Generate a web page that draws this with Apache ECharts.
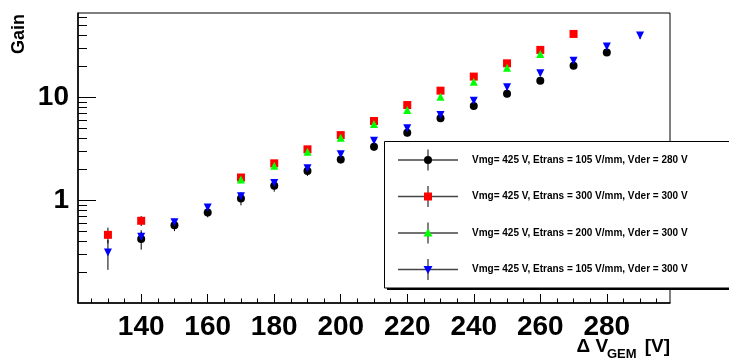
<!DOCTYPE html>
<html>
<head>
<meta charset="utf-8">
<script src="https://cdn.jsdelivr.net/npm/echarts@6/dist/echarts.min.js"></script>
<style>
html,body{margin:0;padding:0;background:#fff;}
#c{width:729px;height:359px;}
</style>
</head>
<body>
<div id="c"></div>
<script>
// ---- data ----
const legendLabels = [
  'Vmg= 425 V, Etrans = 105 V/mm, Vder = 280 V',
  'Vmg= 425 V, Etrans = 300 V/mm, Vder = 300 V',
  'Vmg= 425 V, Etrans = 200 V/mm, Vder = 300 V',
  'Vmg= 425 V, Etrans = 105 V/mm, Vder = 300 V'
];
const blackX = [140,150,160,170,180,190,200,210,220,230,240,250,260,270,280];
const blackY = [0.42,0.57,0.76,1.04,1.38,1.92,2.49,3.3,4.52,6.24,8.23,10.8,14.5,20.3,27.2];
const blackErr = [0.09,0.07,0.08,0.15,0.17,0.2,0.22,0.28,0.35,0.45,0.6,0.8,1.0,1.5,2.0];

const redX = [130,140,170,180,190,200,210,220,230,240,250,260,270];
const redY = [0.46,0.63,1.66,2.28,3.12,4.29,5.88,8.41,11.6,15.9,21.4,28.9,41.3];
const redErr = [0.08,0.07,0.12,0.15,0.2,0.25,0.35,0.5,0.7,0.9,1.2,1.6,2.3];

const greenX = [170,180,190,200,210,220,230,240,250,260];
const greenY = [1.59,2.16,2.95,4.04,5.5,7.52,10.1,14.2,19.4,26.4];
const greenErr = [0.1,0.13,0.18,0.24,0.33,0.45,0.6,0.85,1.1,1.5];

const blueX = [130,140,150,160,170,180,190,200,210,220,230,240,250,260,270,280,290];
const blueY = [0.31,0.44,0.61,0.85,1.09,1.47,2.04,2.79,3.78,4.99,6.72,9.27,12.5,17.1,22.7,31.1,39.8];
const blueErr = [0.1,0.05,0.05,0.06,0.08,0.1,0.13,0.17,0.22,0.3,0.4,0.55,0.75,1.0,1.3,1.8,3.0];

const xMajorTicks = [140,160,180,200,220,240,260,280];
const xMinorTicks = [125,130,135,145,150,155,165,170,175,185,190,195,205,210,215,225,230,235,245,250,255,265,270,275,285,290,295];
const yMajorTicks = [1,10];
const yMinorTicks = [0.2,0.3,0.4,0.5,0.6,0.7,0.8,0.9,2,3,4,5,6,7,8,9,20,30,40,50,60];

// ---- chart ----
const FONT = '"Liberation Sans", Arial, Helvetica, sans-serif';
const zip = (xs, ys) => xs.map((x, i) => [x, ys[i]]);
const zip3 = (xs, ys, es) => xs.map((x, i) => [x, ys[i], es[i]]);

function errSeries(xs, ys, es) {
  return {
    type: 'custom',
    xAxisIndex: 0, yAxisIndex: 0,
    data: zip3(xs, ys, es),
    encode: {x: 0, y: 1},
    z: 1,
    silent: true,
    renderItem: function (params, api) {
      const x = api.value(0), y = api.value(1), e = api.value(2);
      const p1 = api.coord([x, Math.max(y - e, 0.1001)]);
      const p2 = api.coord([x, y + e]);
      return {
        type: 'line',
        shape: {x1: p1[0], y1: p1[1], x2: p2[0], y2: p2[1]},
        style: {stroke: '#000', lineWidth: 1}
      };
    }
  };
}
function scatter(xs, ys, symbol, color, size, rot, z) {
  return {
    type: 'scatter',
    xAxisIndex: 0, yAxisIndex: 0,
    data: zip(xs, ys),
    symbol: symbol,
    symbolSize: size,
    symbolRotate: rot,
    itemStyle: {color: color, opacity: 1},
    z: z,
    silent: true
  };
}

const common = {min: 121, max: 299, splitLine: {show: false}};
const yCommon = {type: 'log', logBase: 10, min: 0.1, max: 66, splitLine: {show: false}};

const chart = echarts.init(document.getElementById('c'), null, {renderer: 'canvas'});

// legend graphics
const legendGraphics = [];
legendGraphics.push({type: 'rect', shape: {x: 387, y: 144, width: 360, height: 146}, style: {fill: '#000'}, z: 100});
legendGraphics.push({type: 'rect', shape: {x: 384.5, y: 141.5, width: 360, height: 146.5}, style: {fill: '#fff', stroke: '#000', lineWidth: 1}, z: 101});
const rowY = [160, 196.5, 233, 269.5];
const mk = [
  {shape: 'circle', color: '#000'},
  {shape: 'rect', color: '#ff0000'},
  {shape: 'tri', color: '#00ff00'},
  {shape: 'dtri', color: '#0000ff'}
];
rowY.forEach((y, i) => {
  legendGraphics.push({type: 'line', shape: {x1: 398, y1: y, x2: 458, y2: y}, style: {stroke: '#444', lineWidth: 1.5}, z: 102});
  legendGraphics.push({type: 'line', shape: {x1: 428, y1: y - 10.5, x2: 428, y2: y + 10.5}, style: {stroke: '#000', lineWidth: 1}, z: 102});
  const m = mk[i];
  let el;
  if (m.shape === 'circle') el = {type: 'circle', shape: {cx: 428, cy: y, r: 4}};
  else if (m.shape === 'rect') el = {type: 'rect', shape: {x: 424, y: y - 4, width: 8, height: 8}};
  else if (m.shape === 'tri') el = {type: 'polygon', shape: {points: [[428, y - 4.5], [432.5, y + 3.5], [423.5, y + 3.5]]}};
  else el = {type: 'polygon', shape: {points: [[428, y + 4.5], [432.5, y - 3.5], [423.5, y - 3.5]]}};
  el.style = {fill: m.color};
  el.z = 103;
  legendGraphics.push(el);
  legendGraphics.push({type: 'text', x: 472, y: y, style: {text: legendLabels[i], font: 'bold 10px ' + FONT, fill: '#000', textAlign: 'left', textVerticalAlign: 'middle'}, z: 103});
});

const titleGraphics = [
  {type: 'text', x: 19.5, y: 34, rotation: Math.PI / 2, style: {text: 'Gain', font: 'bold 18px ' + FONT, fill: '#000', textAlign: 'center', textVerticalAlign: 'middle'}},
  {type: 'text', x: 576.5, y: 347, style: {text: '\u0394 V', font: 'bold 19px ' + FONT, fill: '#000', textAlign: 'left', textVerticalAlign: 'middle'}},
  {type: 'text', x: 607, y: 354, style: {text: 'GEM', font: 'bold 13px ' + FONT, fill: '#000', textAlign: 'left', textVerticalAlign: 'middle'}},
  {type: 'text', x: 670, y: 347, style: {text: '[V]', font: 'bold 19px ' + FONT, fill: '#000', textAlign: 'right', textVerticalAlign: 'middle'}}
];

chart.setOption({
  animation: false,
  backgroundColor: '#fff',
  grid: {left: 78, right: 59, top: 13, bottom: 56, show: true, borderColor: '#000', borderWidth: 1, backgroundColor: 'transparent'},
  xAxis: [
    Object.assign({type: 'value', position: 'bottom',
      axisLine: {show: true, lineStyle: {color: '#000', width: 1.5}},
      axisTick: {show: true, inside: true, length: 9, customValues: xMajorTicks, lineStyle: {color: '#000', width: 1}},
      axisLabel: {show: true, customValues: xMajorTicks, fontSize: 28, fontWeight: 'bold', fontFamily: FONT, color: '#000', margin: 10}
    }, common),
    Object.assign({type: 'value', position: 'bottom', offset: 0,
      axisLine: {show: false},
      axisTick: {show: true, inside: true, length: 4.5, customValues: xMinorTicks, lineStyle: {color: '#000', width: 1}},
      axisLabel: {show: false}
    }, common)
  ],
  yAxis: [
    Object.assign({position: 'left',
      axisLine: {show: true, lineStyle: {color: '#000', width: 1.5}},
      axisTick: {show: true, inside: true, length: 18, customValues: yMajorTicks, lineStyle: {color: '#000', width: 1}},
      axisLabel: {show: true, customValues: yMajorTicks, fontSize: 28, fontWeight: 'bold', fontFamily: FONT, color: '#000', margin: 9, formatter: v => String(v)}
    }, yCommon),
    Object.assign({position: 'left', offset: 0,
      axisLine: {show: false},
      axisTick: {show: true, inside: true, length: 9, customValues: yMinorTicks, lineStyle: {color: '#000', width: 1}},
      axisLabel: {show: false}
    }, yCommon)
  ],
  series: [
    errSeries(blackX, blackY, blackErr),
    errSeries(redX, redY, redErr),
    errSeries(greenX, greenY, greenErr),
    errSeries(blueX, blueY, blueErr),
    scatter(blackX, blackY, 'circle', '#000000', 8, 0, 2),
    scatter(redX, redY, 'rect', '#ff0000', 8, 0, 3),
    scatter(greenX, greenY, 'triangle', '#00ff00', 8, 0, 4),
    scatter(blueX, blueY, 'triangle', '#0000ff', 8, 180, 5)
  ],
  graphic: titleGraphics.concat(legendGraphics)
});
</script>
</body>
</html>
